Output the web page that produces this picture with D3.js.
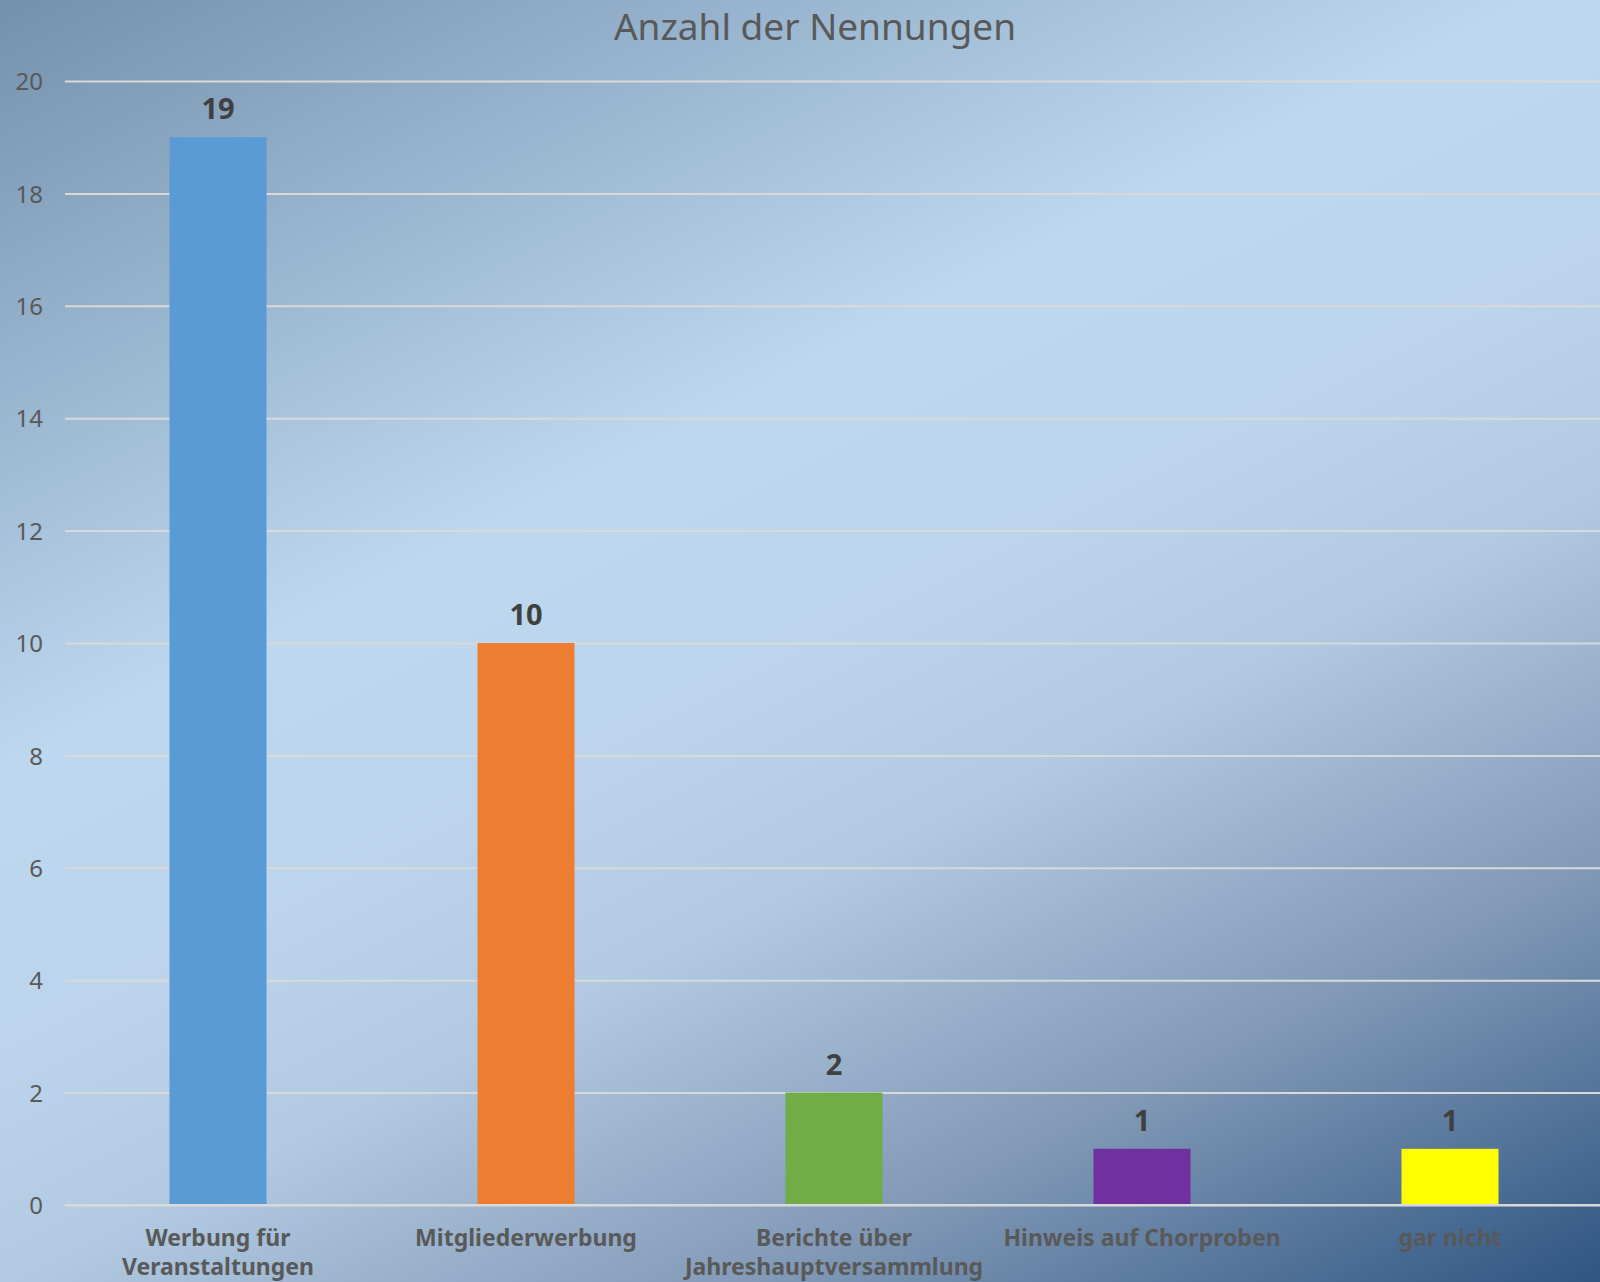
<!DOCTYPE html>
<html>
<head>
<meta charset="utf-8">
<script src="https://cdn.jsdelivr.net/npm/d3@7"></script>
<style>
	html, body { margin: 0; padding: 0; overflow: hidden; }
	svg { display: block; }
</style>
</head>
<body>
<svg class="chart"></svg>
<script>
// values
var categories = [
	["Werbung für", "Veranstaltungen"],
	["Mitgliederwerbung"],
	["Berichte über", "Jahreshauptversammlung"],
	["Hinweis auf Chorproben"],
	["gar nicht"]
];
var values = [19, 10, 2, 1, 1];
var barColors = ["#5b9bd5", "#ed7d31", "#70ad47", "#7030a0", "#ffff00"];
var yTicks = [0, 2, 4, 6, 8, 10, 12, 14, 16, 18, 20];
var title = "Anzahl der Nennungen";

var width = 1600,
	height = 1282,
	margin = {top: 81, right: -4, bottom: 77, left: 65};

var svg = d3.select('svg.chart')
	.attr('width', width)
	.attr('height', height);

// background gradient, dark top left, light band, dark blue bottom right
var grad = svg.append('defs').append('linearGradient')
	.attr('id', 'bg')
	.attr('gradientUnits', 'userSpaceOnUse')
	.attr('x1', 0).attr('y1', 0)
	.attr('x2', 833).attr('y2', 1665);
[[0, '#7390ad'], [0.37, '#bdd7ee'], [0.5, '#bcd5ec'], [0.62, '#b1c9e1'], [0.8, '#8199b6'], [1, '#2f5582']]
	.forEach(function(s) {
		grad.append('stop').attr('offset', s[0]).attr('stop-color', s[1]);
	});

svg.append('rect')
	.attr('width', width)
	.attr('height', height)
	.attr('fill', 'url(#bg)');

var x = d3.scaleBand()
	.domain(d3.range(values.length))
	.range([margin.left - 1, width - margin.right])
	.paddingInner(0.685)
	.paddingOuter(0.3425);

var y = d3.scaleLinear()
	.domain([0, 20])
	.range([height - margin.bottom, margin.top]);

// gridlines + y labels
var yAxis = d3.axisLeft(y)
	.tickValues(yTicks)
	.tickSize(-(width - margin.left))
	.tickPadding(22);

var gy = svg.append('g')
	.attr('transform', 'translate(' + margin.left + ',0)')
	.call(yAxis);
gy.select('.domain').remove();
gy.selectAll('.tick line')
	.attr('stroke', '#d9d9d9')
	.attr('stroke-width', 2);
gy.selectAll('.tick text')
	.attr('fill', '#595959')
	.attr('font-family', '"Noto Sans", sans-serif')
	.attr('font-size', 24)
	.attr('dy', '0.36em');

// bars
svg.append('g').selectAll('rect')
	.data(values).enter().append('rect')
	.attr('x', function(d, i) { return x(i); })
	.attr('y', function(d) { return y(d); })
	.attr('width', x.bandwidth())
	.attr('height', function(d) { return y(0) - y(d); })
	.attr('fill', function(d, i) { return barColors[i]; });

// zero line on top of the bars
svg.append('line')
	.attr('x1', margin.left).attr('x2', width)
	.attr('y1', y(0)).attr('y2', y(0))
	.attr('stroke', '#d9d9d9')
	.attr('stroke-width', 2);

// data labels
svg.append('g').selectAll('text')
	.data(values).enter().append('text')
	.attr('x', function(d, i) { return x(i) + x.bandwidth() / 2; })
	.attr('y', function(d) { return y(d) - 18; })
	.attr('text-anchor', 'middle')
	.attr('fill', '#404040')
	.attr('font-family', '"Noto Sans", sans-serif')
	.attr('font-weight', 'bold')
	.attr('font-size', 29)
	.text(function(d) { return d; });

// category labels
var cat = svg.append('g').selectAll('text')
	.data(categories).enter().append('text')
	.attr('x', function(d, i) { return x(i) + x.bandwidth() / 2; })
	.attr('y', y(0) + 41)
	.attr('text-anchor', 'middle')
	.attr('fill', '#595959')
	.attr('font-family', '"Noto Sans", sans-serif')
	.attr('font-weight', 'bold')
	.attr('font-size', 23);
cat.selectAll('tspan')
	.data(function(d) { return d; }).enter().append('tspan')
	.attr('x', function() { return d3.select(this.parentNode).attr('x'); })
	.attr('dy', function(d, i) { return i ? 29 : 0; })
	.text(function(d) { return d; });

// title
svg.append('text')
	.attr('x', 815)
	.attr('y', 40)
	.attr('text-anchor', 'middle')
	.attr('fill', '#595959')
	.attr('font-family', '"Noto Sans", sans-serif')
	.attr('font-size', 37)
	.text(title);
</script>
</body>
</html>
